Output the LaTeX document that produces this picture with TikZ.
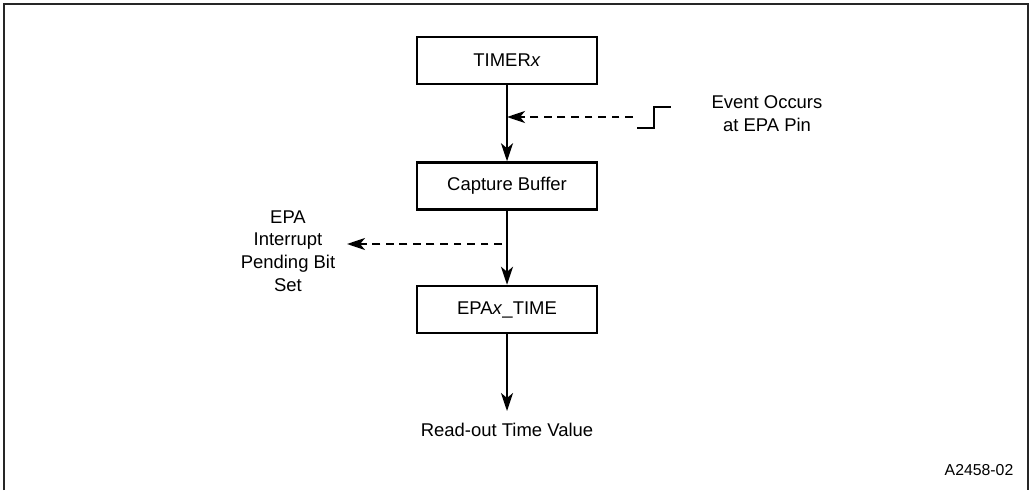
\documentclass[tikz,border=0pt]{standalone}
\usepackage{fontspec}
\setmainfont{Liberation Sans}
\usetikzlibrary{positioning, arrows.meta, calc}

\tikzset{
  regbox/.style={draw, line width=1.4pt, minimum width=3.6cm, minimum height=0.94cm, inner sep=0pt},
  flow/.style={line width=1.4pt, -{Stealth[length=0.36cm, width=0.24cm, inset=0.1cm]}},
  sig/.style={line width=1.4pt, dash pattern=on 4.5pt off 3.2pt, -{Stealth[length=0.36cm, width=0.24cm, inset=0.1cm]}},
  lbl/.style={align=center, font=\fontsize{10.5}{13}\selectfont}
}

\begin{document}
\begin{tikzpicture}[x=0.02cm, y=-0.02cm, font=\fontsize{10.5}{13}\selectfont]
  \useasboundingbox (0,0) rectangle (1030,490);
  % open frame
  \draw[line width=1.2pt, black!85] (4,490) -- (4,4) -- (1028,4) -- (1028,490);

  % registers
  \node[regbox] (timer)   at (507,60.5)  {TIMER\textit{x}};
  \node[regbox] (capture) at (507,186)   {Capture Buffer};
  \node[regbox] (epatime) at (507,309.5) {EPA\textit{x}\_TIME};
  \node[lbl] (readout) at (507,430) {Read-out Time Value};

  \draw[flow] (timer) -- (capture);
  \draw[flow] (capture) -- (epatime);
  \draw[flow] (epatime) -- ($(readout.north)+(0,-6)$);

  % event on the pin
  \node[lbl] (event) at (767,113.5) {Event Occurs\\at EPA Pin};
  \coordinate (edge) at (633,117);
  \coordinate (hit) at (timer.south |- edge);
  \draw[line width=1.4pt] (637,128) -- (654,128) -- (654,107) -- (671,107);
  \draw[sig] (edge) -- (hit);

  % interrupt flag
  \node[lbl] (intr) at (288,251) {EPA\\Interrupt\\Pending Bit\\Set};
  \coordinate (tap) at (502,244);
  \coordinate (flag) at (347,244);
  \draw[sig] (tap) -- (flag);

  \node[font=\fontsize{9}{11}\selectfont] (fig) at (979,470) {A2458-02};
\end{tikzpicture}
\end{document}
